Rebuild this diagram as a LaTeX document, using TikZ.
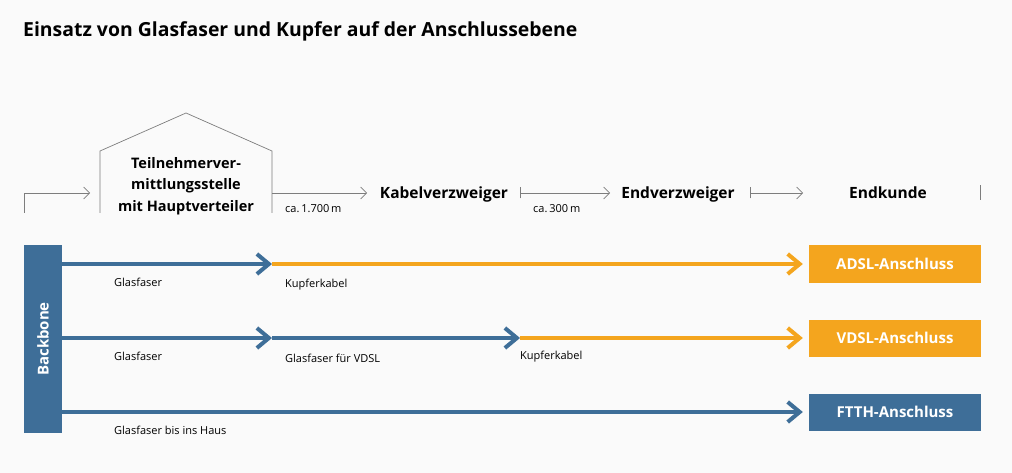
\documentclass[tikz,border=0pt]{standalone}
\usepackage{fontspec}
\setmainfont{Open Sans}
\usetikzlibrary{arrows.meta}
\definecolor{fblue}{RGB}{62,110,152}
\definecolor{forange}{RGB}{244,165,30}
\definecolor{lgray}{RGB}{125,125,125}
\definecolor{bg}{RGB}{250,250,250}
\begin{document}
\begin{tikzpicture}[x=1pt,y=-1pt,
  gline/.style={draw=lgray, line width=0.7pt},
  gtip/.style={-{Straight Barb[length=6pt,width=12pt,line width=0.7pt]}},
  gbartip/.style={{Bar[width=11pt,line width=0.7pt]}-{Straight Barb[length=6pt,width=12pt,line width=0.7pt]}},
  fat/.style={line width=4pt},
  ftip/.style={-{Straight Barb[length=12pt,width=20pt,line width=4pt]}},
  headlbl/.style={font=\fontsize{15.5}{18}\selectfont\bfseries, inner sep=0pt, anchor=base},
  small/.style={font=\fontsize{11}{13}\selectfont, inner sep=0pt, anchor=west},
  box/.style={font=\fontsize{15}{18}\selectfont\bfseries, text=white, minimum width=172pt, minimum height=37pt, inner sep=0pt}
]
\fill[bg] (0,0) rectangle (1012,473);
\useasboundingbox (0,0) rectangle (1012,473);

% title
\node[anchor=base west, inner sep=0pt, font=\fontsize{19.4}{24}\selectfont\bfseries] (title) at (23,37) {Einsatz von Glasfaser und Kupfer auf der Anschlussebene};

% house
\coordinate (hl) at (100,213);
\coordinate (hr) at (272,213);
\draw[gline] (hl) -- (100,151) -- (186,113) -- (272,151) -- (hr);
\node[inner sep=0pt, align=center, font=\fontsize{14.5}{21.5}\selectfont\bfseries] (vst) at (186,186) {Teilnehmerver-\\mittlungsstelle\\mit Hauptverteiler};

% top row
\coordinate (s0) at (24,213);
\coordinate (hin) at (90,193);
\draw[gline, gtip] (s0) |- (hin);
\node[headlbl] (kv) at (444,199) {Kabelverzweiger};
\node[headlbl] (ev) at (678,199) {Endverzweiger};
\node[headlbl] (ek) at (888,199) {Endkunde};
\coordinate (a1) at (272,193);
\coordinate (a1e) at (367,193);
\coordinate (a2) at (520,193);
\coordinate (a2e) at (610,193);
\coordinate (a3) at (750,193);
\coordinate (a3e) at (803,193);
\draw[gline, gtip] (a1) -- (a1e);
\draw[gline, gbartip] (a2) -- (a2e);
\draw[gline, gbartip] (a3) -- (a3e);
\coordinate (endbar) at (980,192);
\draw[gline] ([yshift=-8pt]endbar) -- ([yshift=7pt]endbar);
\node[small] (l1700) at (285,209) {ca.\,1.700\,m};
\node[small] (l300) at (533,209) {ca.\,300\,m};

% backbone
\node[fill=fblue, minimum width=38pt, minimum height=188pt, inner sep=0pt] (bb) at (43,339) {};
\node[rotate=90, text=white, font=\fontsize{15}{18}\selectfont\bfseries] (bbt) at (bb.center) {Backbone};

% boxes
\node[box, fill=forange] (adsl) at (895,264) {ADSL-Anschluss};
\node[box, fill=forange] (vdsl) at (895,338) {VDSL-Anschluss};
\node[box, fill=fblue] (ftth) at (895,412) {FTTH-Anschluss};

% row 1
\coordinate (r1a) at (272,264);
\draw[fat, forange, ftip] (r1a) -- ([xshift=-6pt]adsl.west);
\draw[fat, fblue, ftip] (bb.east |- r1a) -- (r1a);
\node[small] (g1) at (114,282) {Glasfaser};
\node[small] (k1) at (285,285) {Kupferkabel};

% row 2
\coordinate (r2a) at (272,338);
\coordinate (r2b) at (520,338);
\draw[fat, forange, ftip] (r2b) -- ([xshift=-6pt]vdsl.west);
\draw[fat, fblue, ftip] (r2a) -- (r2b);
\draw[fat, fblue, ftip] (bb.east |- r2a) -- (r2a);
\node[small] (g2) at (114,356) {Glasfaser};
\node[small] (gv) at (285,358) {Glasfaser für VDSL};
\node[small] (k2) at (520,357) {Kupferkabel};

% row 3
\draw[fat, fblue, ftip] (bb.east |- ftth) -- ([xshift=-6pt]ftth.west);
\node[small] (g3) at (114,430) {Glasfaser bis ins Haus};
\end{tikzpicture}
\end{document}
